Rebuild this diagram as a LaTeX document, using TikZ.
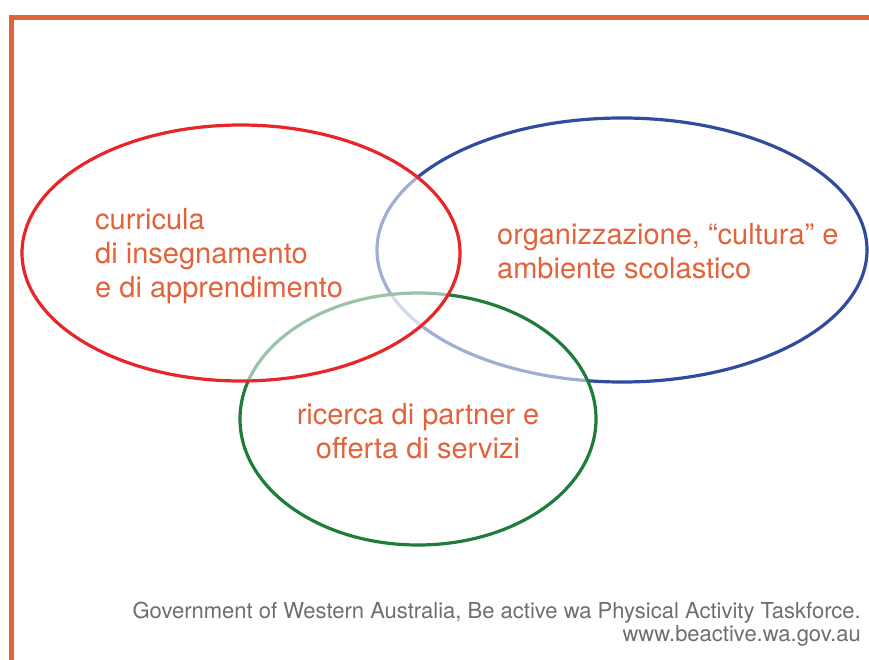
\documentclass[tikz,border=0pt]{standalone}
\usepackage{fontspec}
\setmainfont{TeX Gyre Heros}
\definecolor{frame}{HTML}{E0643A}
\definecolor{lbl}{HTML}{E2623A}
\definecolor{cred}{HTML}{E8262A}
\definecolor{cblue}{HTML}{2F4C9E}
\definecolor{cgreen}{HTML}{1F7D3C}
\definecolor{note}{HTML}{6E6E6E}
\tikzset{
  ring/.style={line width=3.2pt},
  veil/.style={fill=white, fill opacity=0.55},
  lab/.style={text=lbl, font=\fontsize{29}{34}\selectfont, inner sep=0pt, align=left},
  notetext/.style={text=note, font=\fontsize{22}{23}\selectfont, inner sep=0pt, align=right}
}
\begin{document}
\begin{tikzpicture}[x=1pt,y=-1pt]
\useasboundingbox (0,0) rectangle (869,660);
% frame
\draw[frame, line width=5pt] (11.5,662) -- (11.5,17.5) -- (871,17.5);
% blue
\draw[ring, cblue] (622,250) ellipse [x radius=245, y radius=132];
% green
\path[veil] (418,419) ellipse [x radius=178, y radius=126];
\draw[ring, cgreen] (418,419) ellipse [x radius=178, y radius=126];
% red
\path[veil] (241,253) ellipse [x radius=219, y radius=128];
\draw[ring, cred] (241,253) ellipse [x radius=219, y radius=128];
% labels
\node[lab, anchor=base west] (curr) at (95,297) {curricula\\di insegnamento\\e di apprendimento};
\node[lab, anchor=base west] (org) at (497,278) {organizzazione, “cultura” e\\ambiente scolastico};
\node[lab, anchor=base, align=center] (ric) at (418,458) {ricerca di partner e\\offerta di servizi};
\node[notetext, anchor=base east] (src) at (861,641) {Government of Western Australia, Be active wa Physical Activity Taskforce.\\www.beactive.wa.gov.au};
\end{tikzpicture}
\end{document}
